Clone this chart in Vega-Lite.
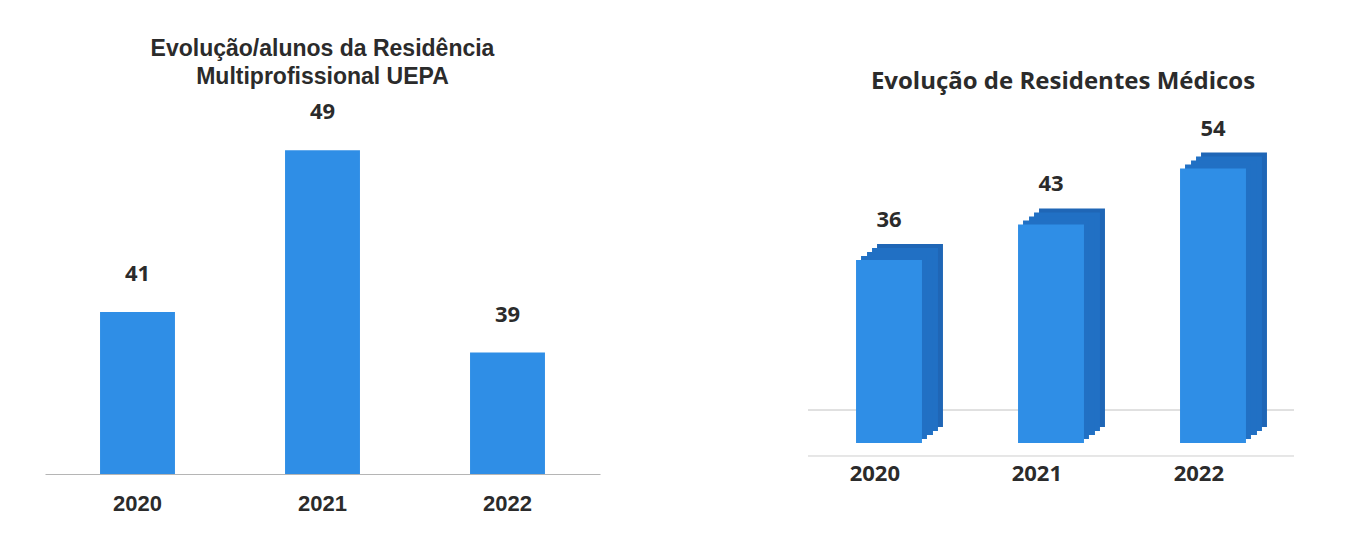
{
  "$schema": "https://vega.github.io/schema/vega-lite/v6.json",
  "background": "white",
  "padding": {"left": 45, "top": 38, "right": 5, "bottom": 5},
  "spacing": 208,
  "bounds": "flush",
  "datasets": {
    "uepa": [
      {"ano": "2020", "alunos": 41},
      {"ano": "2021", "alunos": 49},
      {"ano": "2022", "alunos": 39}
    ],
    "medicos": [
      {"ano": "2020", "residentes": 36},
      {"ano": "2021", "residentes": 43},
      {"ano": "2022", "residentes": 54}
    ]
  },
  "config": {"view": {"stroke": null}},
  "hconcat": [
    {
      "width": 555,
      "height": 336,
      "data": {"name": "uepa"},
      "title": {
        "text": ["Evolução/alunos da Residência", "Multiprofissional UEPA"],
        "font": "Liberation Sans",
        "fontSize": 23,
        "fontWeight": "bold",
        "color": "#2b2b2b",
        "anchor": "middle",
        "frame": "group",
        "offset": 12,
        "lineHeight": 28
      },
      "encoding": {
        "x": {
          "field": "ano",
          "type": "ordinal",
          "scale": {"paddingInner": 0.595, "paddingOuter": 0.2975},
          "axis": {
            "title": null,
            "labelAngle": 0,
            "ticks": false,
            "domainColor": "#b5b5b5",
            "labelFont": "Liberation Sans",
            "labelFontSize": 22,
            "labelFontWeight": "bold",
            "labelColor": "#2b2b2b",
            "labelPadding": 19
          }
        },
        "y": {
          "field": "alunos",
          "type": "quantitative",
          "scale": {"domain": [33, 49.6], "zero": false, "nice": false},
          "axis": null
        }
      },
      "layer": [
        {"mark": {"type": "bar", "color": "#2f8ee6"}, "encoding": {"y2": {"datum": 33}}},
        {
          "mark": {"type": "text", "dy": -38, "font": "Open Sans", "fontSize": 22, "fontWeight": "bold", "color": "#2b2b2b"},
          "encoding": {"text": {"field": "alunos"}}
        }
      ]
    },
    {
      "width": 486,
      "height": 305,
      "data": {"name": "medicos"},
      "title": {
        "text": "Evolução de Residentes Médicos",
        "font": "Open Sans",
        "fontSize": 24,
        "fontWeight": "bold",
        "color": "#2b2b2b",
        "anchor": "middle",
        "frame": "group",
        "offset": 24,
        "dx": 12
      },
      "layer": [
        {
          "mark": {"type": "rule", "color": "#dcdcdc", "yOffset": -33},
          "encoding": {"y": {"datum": 0, "type": "quantitative", "scale": {"domain": [0, 60], "nice": false}, "axis": null}}
        },
        {
          "mark": {"type": "rule", "color": "#e3e3e3", "yOffset": 13},
          "encoding": {"y": {"datum": 0, "type": "quantitative"}}
        },
        {
          "mark": {"type": "bar", "color": "#1f66b6", "xOffset": 21, "yOffset": -16, "y2Offset": -16},
          "encoding": {
            "x": {"field": "ano", "type": "ordinal", "scale": {"paddingInner": 0.593, "paddingOuter": 0.2965}},
            "y": {"field": "residentes", "type": "quantitative"}
          }
        },
        {
          "mark": {"type": "bar", "color": "#2170c4", "xOffset": 16, "yOffset": -12, "y2Offset": -12},
          "encoding": {
            "x": {"field": "ano", "type": "ordinal"},
            "y": {"field": "residentes", "type": "quantitative"}
          }
        },
        {
          "mark": {"type": "bar", "color": "#2170c4", "xOffset": 11, "yOffset": -8, "y2Offset": -8},
          "encoding": {
            "x": {"field": "ano", "type": "ordinal"},
            "y": {"field": "residentes", "type": "quantitative"}
          }
        },
        {
          "mark": {"type": "bar", "color": "#2170c4", "xOffset": 5, "yOffset": -4, "y2Offset": -4},
          "encoding": {
            "x": {"field": "ano", "type": "ordinal"},
            "y": {"field": "residentes", "type": "quantitative"}
          }
        },
        {
          "mark": {"type": "bar", "color": "#2f8ee6"},
          "encoding": {
            "x": {
              "field": "ano",
              "type": "ordinal",
              "axis": {
                "title": null,
                "labelAngle": 0,
                "ticks": false,
                "domain": false,
                "labelFont": "Open Sans",
                "labelFontSize": 22,
                "labelFontWeight": "bold",
                "labelColor": "#2b2b2b",
                "labelPadding": 30,
                "labelOffset": 11
              }
            },
            "y": {"field": "residentes", "type": "quantitative"}
          }
        },
        {
          "mark": {"type": "text", "dy": -40, "font": "Open Sans", "fontSize": 22, "fontWeight": "bold", "color": "#2b2b2b"},
          "encoding": {
            "x": {"field": "ano", "type": "ordinal"},
            "y": {"field": "residentes", "type": "quantitative"},
            "text": {"field": "residentes"}
          }
        }
      ]
    }
  ]
}
